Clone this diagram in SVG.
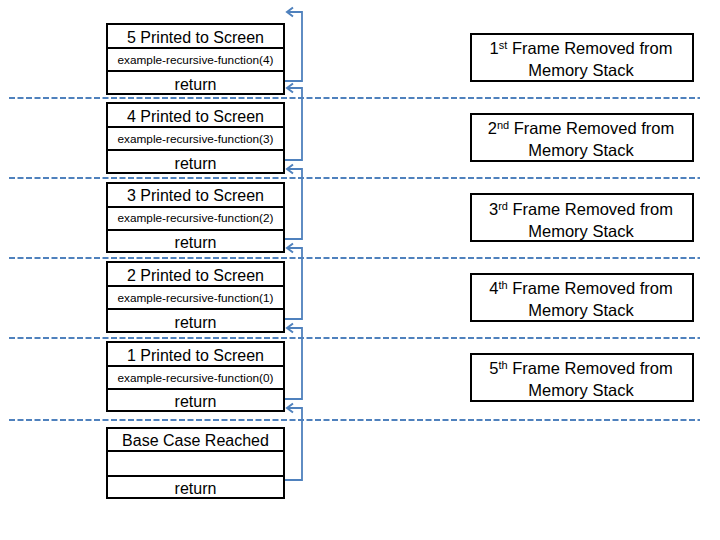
<svg xmlns="http://www.w3.org/2000/svg" width="720" height="540" viewBox="0 0 720 540">
<style>
.box{fill:#fff;stroke:#000;stroke-width:2}
.t{font-family:"Liberation Sans",Arial,sans-serif;font-size:16px;fill:#000;text-anchor:middle}
.r{font-family:"Liberation Sans",Arial,sans-serif;font-size:16.5px;fill:#000;text-anchor:middle}
.s{font-family:"Liberation Sans",Arial,sans-serif;font-size:11.8px;fill:#000;text-anchor:middle}
.dash{stroke:#4f81bd;stroke-width:2;stroke-dasharray:6 2.5;fill:none}
.con{stroke:#4f81bd;stroke-width:1.8;fill:none}
.sup{font-size:11px}
</style>
<defs>
<marker id="ah" markerUnits="userSpaceOnUse" markerWidth="12" markerHeight="12" refX="10" refY="6" orient="auto" viewBox="0 0 12 12">
<path d="M4,1.5 L10,6 L4,10.5" fill="none" stroke="#4f81bd" stroke-width="2"/>
</marker>
</defs>
<g id="separators">
<line class="dash" x1="9" y1="98" x2="700" y2="98"/>
<line class="dash" x1="9" y1="178" x2="700" y2="178"/>
<line class="dash" x1="9" y1="258" x2="700" y2="258"/>
<line class="dash" x1="9" y1="338" x2="700" y2="338"/>
<line class="dash" x1="9" y1="420" x2="700" y2="420"/>
</g>
<g id="frame1">
<rect class="box" x="107" y="24" width="177" height="24"/>
<rect class="box" x="107" y="48" width="177" height="23"/>
<rect class="box" x="107" y="71" width="177" height="23"/>
<text class="t" x="195.5" y="43">5 Printed to Screen</text>
<text class="s" x="195.5" y="64">example-recursive-function(4)</text>
<text class="t" x="195.5" y="90">return</text>
</g>
<g id="frame2">
<rect class="box" x="107" y="103" width="177" height="24"/>
<rect class="box" x="107" y="127" width="177" height="23"/>
<rect class="box" x="107" y="150" width="177" height="23"/>
<text class="t" x="195.5" y="122">4 Printed to Screen</text>
<text class="s" x="195.5" y="143">example-recursive-function(3)</text>
<text class="t" x="195.5" y="169">return</text>
</g>
<g id="frame3">
<rect class="box" x="107" y="183" width="177" height="24"/>
<rect class="box" x="107" y="207" width="177" height="23"/>
<rect class="box" x="107" y="230" width="177" height="22"/>
<text class="t" x="195.5" y="201">3 Printed to Screen</text>
<text class="s" x="195.5" y="222">example-recursive-function(2)</text>
<text class="t" x="195.5" y="248">return</text>
</g>
<g id="frame4">
<rect class="box" x="107" y="262" width="177" height="24"/>
<rect class="box" x="107" y="286" width="177" height="23"/>
<rect class="box" x="107" y="309" width="177" height="23"/>
<text class="t" x="195.5" y="281">2 Printed to Screen</text>
<text class="s" x="195.5" y="302">example-recursive-function(1)</text>
<text class="t" x="195.5" y="328">return</text>
</g>
<g id="frame5">
<rect class="box" x="107" y="342" width="177" height="24"/>
<rect class="box" x="107" y="366" width="177" height="23"/>
<rect class="box" x="107" y="389" width="177" height="22"/>
<text class="t" x="195.5" y="361">1 Printed to Screen</text>
<text class="s" x="195.5" y="382">example-recursive-function(0)</text>
<text class="t" x="195.5" y="407">return</text>
</g>
<g id="base">
<rect class="box" x="107" y="428" width="177" height="23"/>
<rect class="box" x="107" y="451" width="177" height="25"/>
<rect class="box" x="107" y="476" width="177" height="22"/>
<text class="t" x="195.5" y="446">Base Case Reached</text>
<text class="t" x="195.5" y="494">return</text>
</g>
<g id="removed1">
<rect class="box" x="471" y="34" width="222" height="47"/>
<text class="r" x="581" y="54">1<tspan class="sup" dy="-5">st</tspan><tspan dy="5"> Frame Removed from</tspan></text>
<text class="r" x="581" y="76">Memory Stack</text>
</g>
<g id="removed2">
<rect class="box" x="471" y="114" width="222" height="47"/>
<text class="r" x="581" y="134">2<tspan class="sup" dy="-5">nd</tspan><tspan dy="5"> Frame Removed from</tspan></text>
<text class="r" x="581" y="156">Memory Stack</text>
</g>
<g id="removed3">
<rect class="box" x="471" y="194" width="222" height="47"/>
<text class="r" x="581" y="215">3<tspan class="sup" dy="-5">rd</tspan><tspan dy="5"> Frame Removed from</tspan></text>
<text class="r" x="581" y="237">Memory Stack</text>
</g>
<g id="removed4">
<rect class="box" x="471" y="274" width="222" height="47"/>
<text class="r" x="581" y="294">4<tspan class="sup" dy="-5">th</tspan><tspan dy="5"> Frame Removed from</tspan></text>
<text class="r" x="581" y="316">Memory Stack</text>
</g>
<g id="removed5">
<rect class="box" x="471" y="354" width="222" height="47"/>
<text class="r" x="581" y="374">5<tspan class="sup" dy="-5">th</tspan><tspan dy="5"> Frame Removed from</tspan></text>
<text class="r" x="581" y="396">Memory Stack</text>
</g>
<g id="connectors">
<polyline class="con" points="285,81 302,81 302,12 287,12" marker-end="url(#ah)"/>
<polyline class="con" points="285,160 302,160 302,88 287,88" marker-end="url(#ah)"/>
<polyline class="con" points="285,239 302,239 302,169 287,169" marker-end="url(#ah)"/>
<polyline class="con" points="285,319 302,319 302,248 287,248" marker-end="url(#ah)"/>
<polyline class="con" points="285,399 302,399 302,328 287,328" marker-end="url(#ah)"/>
<polyline class="con" points="285,480 302,480 302,408 287,408" marker-end="url(#ah)"/>
</g>
</svg>
